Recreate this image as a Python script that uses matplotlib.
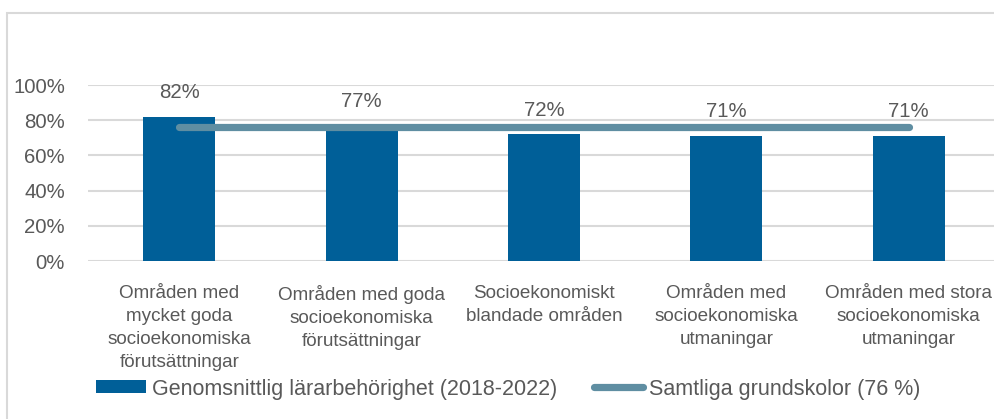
import matplotlib

matplotlib.use("Agg")
import matplotlib.pyplot as plt
from matplotlib.patches import Rectangle
from matplotlib.lines import Line2D
import numpy as np

categories = [
    "Områden med\nmycket goda\nsocioekonomiska\nförutsättningar",
    "Områden med goda\nsocioekonomiska\nförutsättningar",
    "Socioekonomiskt\nblandade områden",
    "Områden med\nsocioekonomiska\nutmaningar",
    "Områden med stora\nsocioekonomiska\nutmaningar",
]
behorighet = [82, 77, 72, 71, 71]
samtliga = 76
yticks = [0, 20, 40, 60, 80, 100]
legend_labels = ["Genomsnittlig lärarbehörighet (2018-2022)", "Samtliga grundskolor (76 %)"]

bar_color = "#005f98"
line_color = "#5f8ea2"
text_color = "#595959"
grid_color = "#d9d9d9"

plt.rcParams["font.family"] = ["Liberation Sans", "DejaVu Sans"]

fig = plt.figure(figsize=(9.95, 4.19), dpi=100)
W, H = 995, 419

# outer chart border (cropped on the right and bottom)
fig.patches.append(Rectangle((7 / W, -0.1), 1.2, 1.1 - 13 / H, transform=fig.transFigure,
                             fill=False, edgecolor="#d9d9d9", linewidth=1.5))

ax = fig.add_axes([88 / W, 1 - 261 / H, (1000 - 88) / W, 176 / H])
x = np.arange(len(categories))
ax.bar(x, behorighet, width=0.395, color=bar_color, zorder=3)
ax.plot([x[0], x[-1]], [samtliga, samtliga], color=line_color, linewidth=5.2,
        solid_capstyle="round", zorder=4)

for xi, v in zip(x, behorighet):
    ax.annotate(f"{v}%", (xi, v), xytext=(0, 17.4), textcoords="offset points",
                ha="center", va="center", fontsize=14.7, color=text_color, zorder=5)

ax.set_xlim(-0.5, 4.5)
ax.set_ylim(0, 100)
ax.set_yticks(yticks)
ax.set_yticklabels([f"{t}%" for t in yticks], fontsize=14.7, color=text_color)
ax.set_xticks(x)
ax.set_xticklabels(categories, fontsize=13.6, color=text_color, linespacing=1.45, va="top")
ax.tick_params(axis="both", length=0)
ax.tick_params(axis="x", pad=17.5)
ax.tick_params(axis="y", pad=16.5)
ax.yaxis.grid(True, color=grid_color, linewidth=1.5, zorder=0)
for s in ax.spines.values():
    s.set_visible(False)

handles = [
    Rectangle((0, 0), 1, 1, facecolor=bar_color),
    Line2D([0], [0], color=line_color, linewidth=5.2, solid_capstyle="round"),
]
fig.legend(handles, legend_labels,
           loc="center left", bbox_to_anchor=(96 / W, 1 - 389 / H), ncol=2, frameon=False,
           fontsize=15.5, labelcolor=text_color, handlelength=2.3, handleheight=0.56,
           handletextpad=0.28, columnspacing=1.72, borderpad=0, borderaxespad=0)

fig.savefig("out.png", dpi=100)
